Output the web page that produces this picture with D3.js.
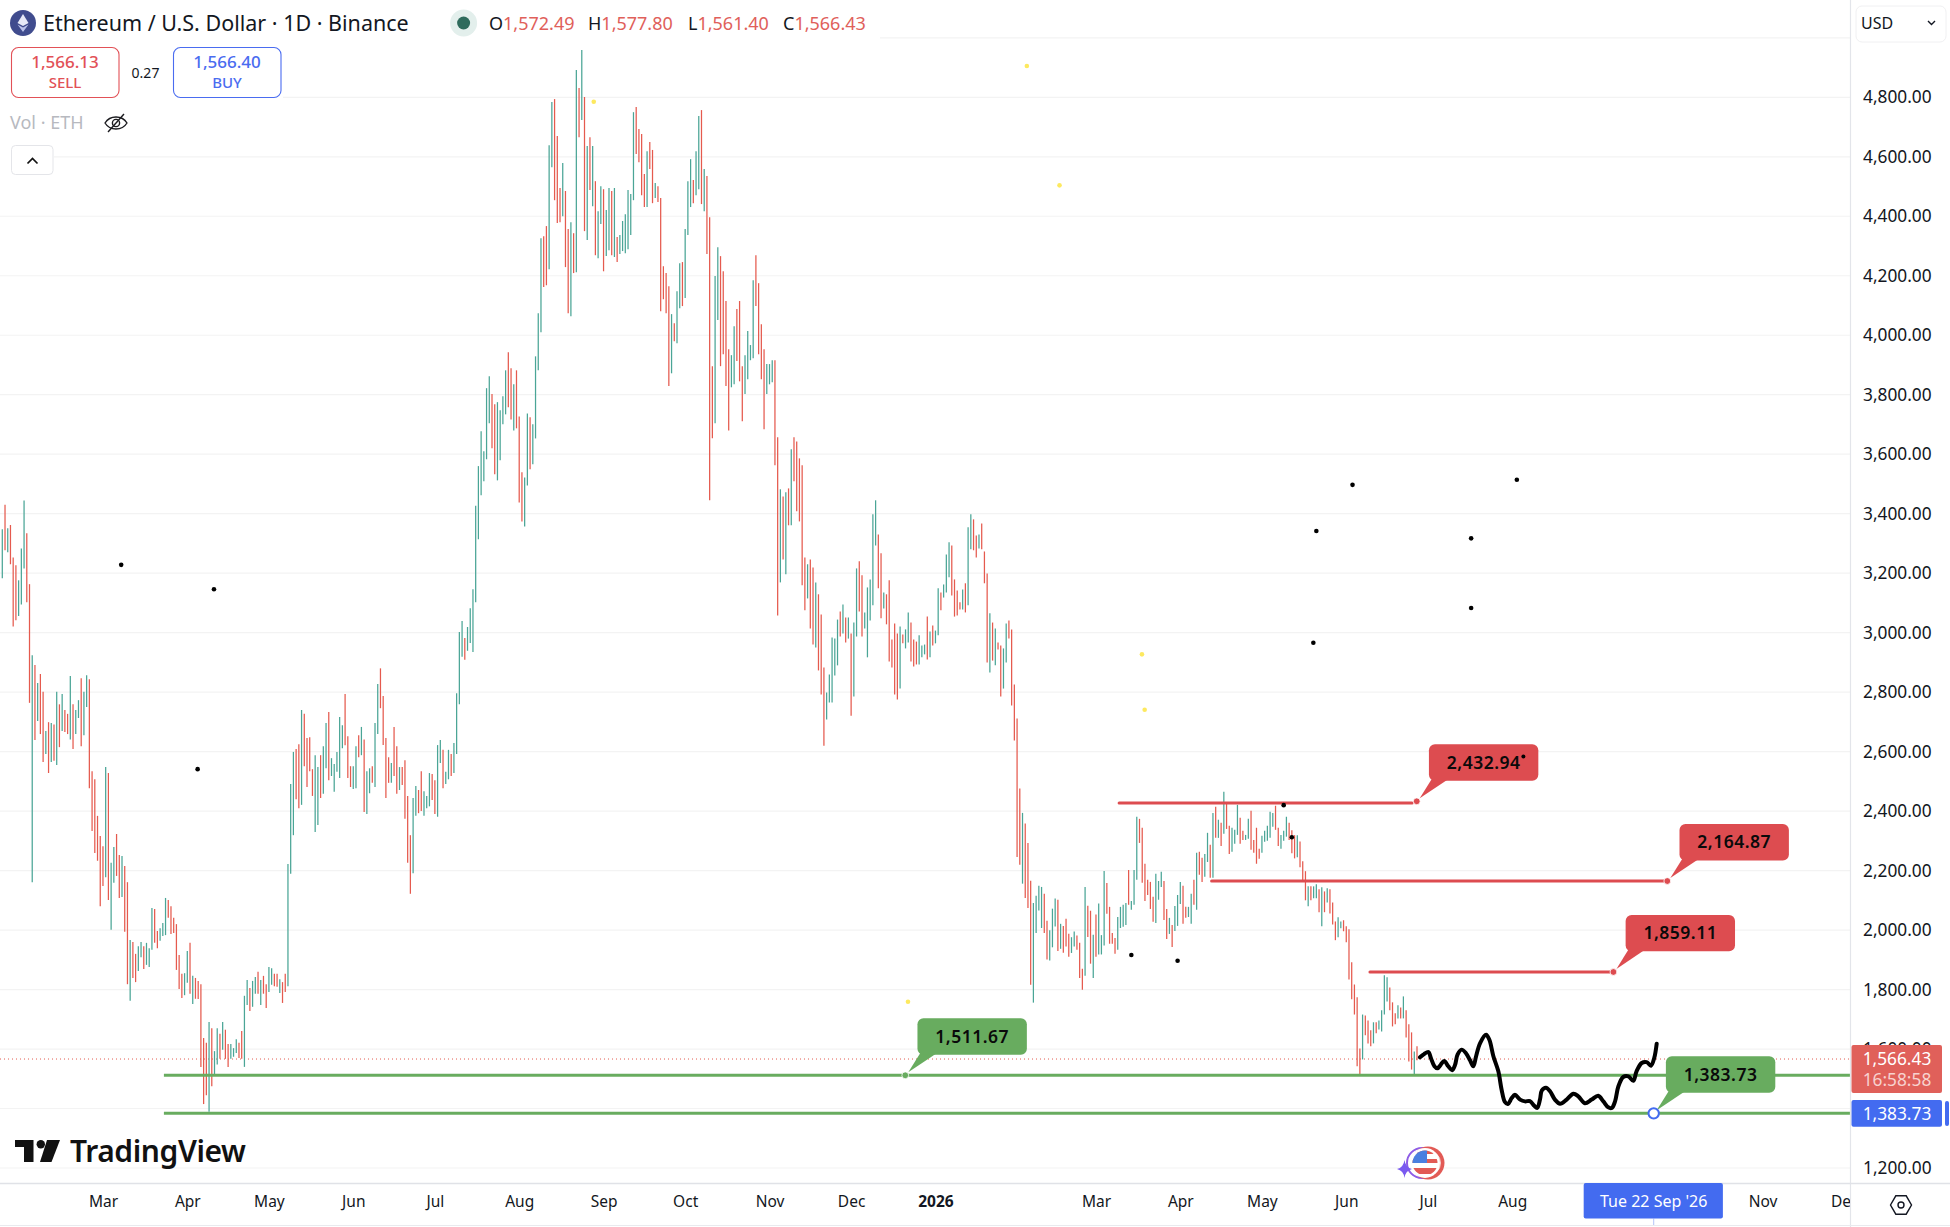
<!DOCTYPE html>
<html><head><meta charset="utf-8"><title>ETH/USD</title>
<script src="https://d3js.org/d3.v7.min.js"></script>
<style>html,body{margin:0;padding:0;background:#fff}svg{display:block}text{font-family:"Noto Sans",sans-serif}</style>
</head><body><div id="chart"></div>
<script>
const firstBarDate = "2025-01-23";
const highs = [
3348,3430,3351,3362,3253,3227,3176,3283,3444,3334,3163,2924,2891,2831,2861,2801,2669,2699,2696,2691,
2801,2759,2794,2740,2727,2854,2759,2740,2773,2847,2801,2857,2843,2534,2507,2384,2316,2282,2548,2528,
2226,2279,2323,2252,2249,2215,2161,1967,1960,1920,1946,1960,1946,1957,1939,2074,2071,1997,2006,2024,
2108,2101,2080,2041,2020,1916,1853,1855,1930,1957,1846,1839,1829,1818,1637,1621,1691,1670,1593,1670,
1651,1691,1665,1617,1617,1603,1633,1621,1661,1779,1832,1805,1829,1842,1860,1832,1846,1818,1876,1872,
1853,1853,1835,1825,1853,2222,2491,2599,2609,2625,2740,2727,2646,2648,2541,2588,2548,2588,2618,2696,
2733,2578,2558,2599,2716,2689,2794,2652,2551,2551,2618,2655,2683,2641,2534,2544,2551,2696,2827,2880,
2787,2646,2581,2562,2683,2618,2548,2548,2571,2451,2319,2444,2484,2471,2534,2467,2451,2528,2525,2504,
2622,2639,2606,2532,2606,2592,2629,2796,3002,3039,2982,3019,3082,3146,3427,3560,
3677,3610,3822,3862,3802,3768,3775,3748,3795,3882,3943,3889,3835,3882,3727,3539,3522,3737,3724,3701,
3929,4074,4326,4333,4367,4639,4784,4794,4670,4495,4579,4485,4357,4380,4343,4892,4831,4959,4801,4636,
4666,4636,4518,4417,4501,4491,4421,4495,4485,4495,4330,4337,4384,4407,4488,4475,4750,4767,4693,4677,
4542,4619,4650,4623,4512,4501,4461,4232,4209,4165,4071,4040,4148,4242,4246,4357,4518,4592,4522,4619,
4737,4757,4559,4535,4397,3896,4199,4296,4266,4215,4115,3953,3933,4030,4088,4115,3896,3933,4014,3967,
4185,4269,4175,4037,3953,3903,3903,3916,3916,3657,
3482,3458,3472,3485,3617,3657,3643,3586,3563,3253,3230,3246,3219,3169,3129,3061,2883,2799,2859,2984,
2980,3044,3071,3095,3051,3051,2997,3034,3216,3240,3193,3068,3152,3179,3398,3445,3330,3267,3135,3129,
3176,2977,3031,2997,3021,2994,3011,3068,3034,2977,2970,2991,2957,2960,3054,3004,3024,3007,3149,3135,
3162,3263,3304,3293,3179,3142,3102,3145,3166,3354,3398,3381,3327,3330,3367,3273,3199,3065,3034,3014,
2967,2957,2947,3031,3041,3011,2826,2711,
2476,2394,2358,2293,2166,2091,2115,2149,2145,2122,2031,1999,2072,2106,2102,2021,2014,2038,1988,1976,
1995,1982,1957,1870,2145,2082,2065,1984,2052,2089,1983,2199,2158,2078,1990,1973,2044,
2078,2085,2091,2202,2098,2202,2381,2374,2344,2223,2169,2162,2112,2189,2165,2196,2165,2071,2041,2017,
2081,2118,2162,2149,2078,2078,2122,2169,2260,2263,2243,2256,2327,2287,2394,2415,2371,2361,2465,2428,
2351,2344,2337,2421,2378,2334,2320,2374,2401,2303,2344,2273,2317,2334,2351,2398,2394,2418,2344,2320,
2334,2381,2361,
2336,2319,2319,2298,2231,2198,2147,2147,2147,2154,2137,2144,2130,2141,2137,2093,2029,2043,2029,2033,
2013,2003,1892,1817,1774,1602,1716,1713,1696,1663,1690,1690,1696,1730,1848,1841,1807,1757,1720,1747,
1740,1777,1730,1683,1656,1592,1609];
const lows = [
3183,3277,3270,3230,3021,3042,3056,3095,3216,3102,2764,2161,2639,2703,2659,2565,2592,2528,2565,2569,
2555,2615,2669,2666,2659,2641,2609,2659,2713,2618,2655,2750,2477,2333,2259,2233,2080,2148,2178,2101,
2001,2159,2182,2108,2111,1994,1818,1762,1839,1825,1862,1909,1869,1883,1876,1934,1957,1939,1964,1980,
1983,2041,1987,1990,1866,1802,1772,1781,1823,1786,1751,1769,1768,1540,1415,1445,1389,1475,1511,1548,
1567,1598,1567,1540,1567,1574,1587,1570,1567,1540,1748,1728,1742,1786,1786,1748,1786,1738,1792,1816,
1811,1809,1788,1755,1792,1811,2189,2319,2440,2410,2421,2551,2481,2534,2451,2330,2353,2444,2458,2544,
2504,2518,2465,2532,2511,2611,2621,2511,2481,2474,2477,2581,2588,2397,2390,2460,2495,2481,2659,2746,
2622,2444,2495,2495,2518,2458,2471,2488,2374,2226,2122,2191,2384,2393,2400,2384,2410,2416,2437,2390,
2381,2562,2477,2491,2507,2518,2528,2592,2759,2919,2909,2939,2965,2935,3102,3314,
3462,3509,3583,3704,3620,3533,3512,3580,3701,3734,3758,3717,3680,3687,3438,3374,3357,3495,3549,3566,
3653,3882,4010,4162,4168,4222,4565,4454,4377,4380,4400,4229,4074,4064,4209,4212,4666,4724,4350,4320,
4488,4434,4269,4259,4374,4215,4266,4286,4269,4263,4246,4273,4283,4276,4289,4337,4454,4609,4582,4471,
4431,4431,4559,4444,4461,4448,4081,4121,4074,3829,3872,3980,3973,4091,4098,4125,4337,4431,4444,4471,
4491,4441,4417,4273,3445,3654,3704,4051,3896,3936,3829,3680,3825,3835,3913,3845,3711,3802,3852,3916,
3923,4098,3936,3852,3684,3802,3835,3842,3563,3058,
3169,3246,3196,3361,3361,3509,3408,3374,3159,3075,3115,3014,2960,2950,2873,2792,2620,2708,2765,2765,
2856,2890,2987,2997,2967,2980,2721,2785,2987,3071,2987,3014,2917,3041,3092,3293,3149,3048,3081,3028,
2903,2883,2792,2775,2812,2964,2947,2967,2903,2886,2893,2893,2917,2927,2910,2917,2957,2964,2991,3075,
3118,3135,3186,3125,3054,3058,3078,3078,3068,3092,3280,3277,3253,3283,3280,3166,2900,2866,2906,2890,
2943,2785,2812,2900,2980,2755,2637,2246,
2220,2156,2108,2074,1816,1756,1990,2066,2007,1990,1901,1898,1942,2012,1930,1937,1924,1945,1910,1923,
1945,1934,1839,1799,1846,1977,1887,1839,1910,1918,1918,1948,2055,1954,1954,1920,1934,
2007,2011,2017,2085,2068,2085,2169,2293,2159,2098,2118,2071,2028,2024,2102,2145,2034,1970,1987,1943,
1997,2014,2088,2021,2041,2044,2021,2085,2068,2186,2162,2179,2229,2176,2176,2310,2310,2283,2324,2340,
2256,2263,2290,2320,2290,2303,2303,2307,2270,2260,2223,2240,2260,2297,2300,2310,2347,2337,2283,2273,
2300,2314,2303,
2258,2241,2245,2211,2164,2100,2080,2100,2107,2107,2060,2013,2060,2093,2056,2019,1966,1976,2006,1996,
1959,1834,1767,1716,1542,1510,1565,1646,1619,1609,1619,1653,1666,1659,1716,1760,1730,1676,1683,1703,
1703,1703,1639,1558,1531,1510,1562];
const sides = [
"GRGRRRGGGR","RGRGRRGRGR","GRGRRGRGGR","GGRRRRRRGR","GGRRGRRGRR","GGRGGGRRGG","GRRRRRRGGR","GRRRRRGRGG","RGRRGGGRRG",
"GRGGRGRRGG","RRGRRGGGRR","GRRRRGGRGG","RGGGGGRRRG","GRGRGGRGGR","RRRGRRGRRR","RGGRRGGGRR","GGRGGRGGGG","RGGGGG",
"GGGGRRGGGG","RRGRRRGGRG","GGGRRGGRRR","GRRGRGRGRG","RGRGGRGGRG","RGGGGGGRRR","RGRRGRRRRR","GRGGRGGGRG","GRGRRRGGRR","RRGGRRRGGG","GRRRRGGGRR",
"GRGRGRRRRR","GRRGRRRGGG","GGRGRGRGGR","RGGGGGRRGR","RRRRGRGGRR","RGGGRGRGGR","GGGRRRRGRG","GRRGRRRGRG","RRGGRRRR",
"RGRRRGGGGR","RGGGRGRRRG","GRRRGRRGRG","GGRRRRG",
"GGGRGGGRRR","RRRGGGRRGR","GGGRRGGRGR","RGGRGRGRGR","RGGGRRGGRR","RRGGGGGRRG","GGR",
"RRGRRRGRGG","RGRGRRRGGR","RRRRRRGRRR","GRGGGGRRRG","RGRRRGR"].join("");

const priceTicks = d3.range(1200, 5001, 200);
const labelledTicks = d3.range(1200, 4801, 200);
const timeTicks = ["2025-03-01","2025-04-01","2025-05-01","2025-06-01","2025-07-01","2025-08-01","2025-09-01","2025-10-01","2025-11-01","2025-12-01","2026-01-01","2026-03-01","2026-04-01","2026-05-01","2026-06-01","2026-07-01","2026-08-01","2026-09-01","2026-10-01","2026-11-01","2026-12-01"];

const lastPrice = 1566.43, bidPrice = 1566.13, askPrice = 1566.40, cursorPrice = 1383.73;
const ohlc = [["O","1,572.49"],["H","1,577.80"],["L","1,561.40"],["C","1,566.43"]];

const redLevels = [2427, 2164.87, 1859.11];
const redStartDays = [410.5, 444.5, 502.7];
const redEndDays = [518.2, 611.2, 591.3];
const greenLevels = [1511.67, 1383.73];
const greenStartDay = 59.4, greenEndDay = 690;

const calloutValues = [2432.94, 2164.87, 1859.11, 1511.67, 1383.73];
const calloutDays = [519.9, 612, 592.2, 331.9, 607];
const calloutKinds = ["red","red","red","green","cursor"];

const blackDotDays = [43.7,77.8,71.8,483,481.9,496.3,539.9,556.7,539.9,415,432,471,474,559.1];
const blackDotPrices = [3228,3146,2541,3342,2966,3497,3317,3514,3083,1916,1897,2420,2312,2584];
const yellowDotDays = [376.6,388.6,217.4,418.9,419.9,332.9];
const yellowDotPrices = [4905,4504,4785,2927,2741,1759];

const sketchDays = [521.1,522.6,524.2,525.1,526.4,527.5,528.7,530,531.5,532.9,534,534.9,536.4,538,539.5,540.7,541.7,543.2,545.4,546.6,548.1,549.9,551.1,552.3,553.4,554.8,556,557.9,559.7,561.5,563.1,564.2,565.2,565.9,567.4,568.9,570.7,572.6,575,577.5,579.3,581.7,584.2,586.6,588.5,590.3,591.6,592.8,594,595.8,597.7,599.5,600.7,602.6,604.4,606,607.2,608.1];
const sketchPrices = [1572,1583,1590,1570,1542,1535,1547,1560,1542,1529,1547,1581,1598,1586,1562,1542,1575,1620,1648,1631,1575,1525,1463,1422,1415,1435,1446,1430,1424,1425,1409,1402,1430,1461,1470,1458,1430,1416,1430,1450,1441,1418,1430,1443,1424,1404,1402,1424,1474,1506,1508,1493,1525,1553,1556,1544,1570,1618];

const W = 1950, H = 1227, axisX = 1850, axisY = 1183;
const RED = "#dd4c50", GREEN = "#68ac5f", BLUE = "#436bf0", UPC = "#4aa596", DOWNC = "#e55a4e", INK = "#131722", GRID = "#f3f3f3";

const d0 = new Date(firstBarDate + "T00:00:00Z");
const dayDate = d => new Date(+d0 + d * 864e5);
const x = d3.scaleUtc().domain([d0, dayDate(520)]).range([2.3, 1417]);
const xd = d => x(dayDate(d));
const y = d3.scaleLinear().domain([4800, 1200]).range([97.3, 1168]);
const money = d3.format(",.2f");

const svg = d3.select("#chart").append("svg").attr("width", W).attr("height", H).attr("viewBox", `0 0 ${W} ${H}`);
svg.append("rect").attr("width", W).attr("height", H).attr("fill", "#fff");
const defs = svg.append("defs");
defs.append("clipPath").attr("id", "plot").append("rect").attr("width", axisX).attr("height", axisY);
defs.append("clipPath").attr("id", "timeaxis").append("rect").attr("y", axisY).attr("width", axisX).attr("height", H - axisY);

const plot = svg.append("g").attr("clip-path", "url(#plot)");
plot.append("g").selectAll("line").data(priceTicks).join("line")
  .attr("x1", 0).attr("x2", axisX).attr("y1", d => y(d)).attr("y2", d => y(d))
  .attr("stroke", GRID).attr("stroke-width", 1.2);

// legend background hides the grid
plot.append("rect").attr("x", 0).attr("y", 0).attr("width", 880).attr("height", 42).attr("fill", "#fff");
plot.append("rect").attr("x", 0).attr("y", 42).attr("width", 283).attr("height", 60).attr("fill", "#fff");
plot.append("rect").attr("x", 0).attr("y", 102).attr("width", 54).attr("height", 76).attr("fill", "#fff");

plot.append("line").attr("x1", 0).attr("x2", axisX).attr("y1", y(lastPrice)).attr("y2", y(lastPrice))
  .attr("stroke", DOWNC).attr("stroke-width", 1).attr("stroke-dasharray", "1 3");

plot.append("g").selectAll("line").data(highs).join("line")
  .attr("x1", (d, i) => xd(i)).attr("x2", (d, i) => xd(i))
  .attr("y1", d => y(d)).attr("y2", (d, i) => y(lows[i]))
  .attr("stroke", (d, i) => sides[i] === "G" ? UPC : DOWNC).attr("stroke-width", 1.25);

// horizontal levels
const levels = plot.append("g");
redLevels.forEach((lv, i) => levels.append("line")
  .attr("x1", xd(redStartDays[i])).attr("x2", xd(redEndDays[i])).attr("y1", y(lv)).attr("y2", y(lv))
  .attr("stroke", RED).attr("stroke-width", 3).attr("stroke-linecap", "round"));
greenLevels.forEach(lv => levels.append("line")
  .attr("x1", xd(greenStartDay)).attr("x2", xd(greenEndDay)).attr("y1", y(lv)).attr("y2", y(lv))
  .attr("stroke", GREEN).attr("stroke-width", 3));

plot.append("g").selectAll("circle").data(blackDotDays).join("circle")
  .attr("cx", d => xd(d)).attr("cy", (d, i) => y(blackDotPrices[i])).attr("r", 2.3).attr("fill", "#000");
plot.append("g").selectAll("circle").data(yellowDotDays).join("circle")
  .attr("cx", d => xd(d)).attr("cy", (d, i) => y(yellowDotPrices[i])).attr("r", 2.3).attr("fill", "#fde95f");

// hand-drawn sketch
plot.append("path").datum(sketchDays)
  .attr("d", d3.line().x(d => xd(d)).y((d, i) => y(sketchPrices[i])).curve(d3.curveCatmullRom))
  .attr("fill", "none").attr("stroke", "#000").attr("stroke-width", 4).attr("stroke-linecap", "round").attr("stroke-linejoin", "round");

// callouts
const boxW = 109.4, boxH = 36.4, boxDX = 12.2, boxDY = -57;
calloutValues.forEach((v, i) => {
  const kind = calloutKinds[i], col = kind === "red" ? RED : GREEN;
  const ax = xd(calloutDays[i]), ay = y(v);
  const g = svg.append("g");
  const bx = ax + boxDX, by = ay + boxDY, bb = by + boxH;
  g.append("path").attr("d", d3.line()([[ax + 3, ay - 3], [bx + 3, bb - 2], [bx + 20, bb - 2]])).attr("fill", col);
  g.append("rect").attr("x", bx).attr("y", by).attr("width", boxW).attr("height", boxH).attr("rx", 6).attr("fill", col);
  g.append("text").attr("x", bx + boxW / 2).attr("y", by + boxH / 2 + 6).attr("text-anchor", "middle")
    .attr("font-size", 17.5).attr("font-weight", 600).attr("letter-spacing", 0.5).attr("fill", "#0a0a0a").text(money(v));
  if (kind === "cursor") {
    g.append("circle").attr("cx", ax).attr("cy", ay).attr("r", 5.2).attr("fill", "#fff").attr("stroke", BLUE).attr("stroke-width", 2);
  } else {
    g.append("circle").attr("cx", ax).attr("cy", ay).attr("r", 3.4).attr("fill", col).attr("stroke", "#fff").attr("stroke-width", 0.8);
  }
});
// the small dot sitting on the first callout, drawn above it
svg.append("circle").attr("cx", xd(blackDotDays[13])).attr("cy", y(blackDotPrices[13])).attr("r", 2).attr("fill", "#000");

// price axis
svg.append("rect").attr("x", axisX).attr("y", 0).attr("width", W - axisX).attr("height", H).attr("fill", "#fff");
const yAxis = d3.axisRight(y).tickValues(labelledTicks).tickFormat(money).tickSize(0).tickPadding(13);
const yG = svg.append("g").attr("transform", `translate(${axisX},0)`).call(yAxis);
yG.select(".domain").remove();
yG.selectAll("text").attr("font-size", 17.3).attr("fill", INK).attr("font-family", '"Noto Sans",sans-serif');
svg.append("line").attr("x1", axisX + 0.5).attr("x2", axisX + 0.5).attr("y1", 0).attr("y2", H).attr("stroke", "#e3e5ea").attr("stroke-width", 1.2);

// time axis
svg.append("line").attr("x1", 0).attr("x2", W).attr("y1", axisY + 0.5).attr("y2", axisY + 0.5).attr("stroke", "#e0e2e7").attr("stroke-width", 1.4);
svg.append("line").attr("x1", 0).attr("x2", W).attr("y1", 1225.5).attr("y2", 1225.5).attr("stroke", "#e9eaee").attr("stroke-width", 1.2);
const xAxis = d3.axisBottom(x).tickValues(timeTicks.map(s => new Date(s + "T00:00:00Z")))
  .tickFormat(d => d.getUTCMonth() === 0 ? d3.utcFormat("%Y")(d) : d3.utcFormat("%b")(d)).tickSize(0).tickPadding(13);
const xG = svg.append("g").attr("clip-path", "url(#timeaxis)").append("g").attr("transform", `translate(0,${axisY})`).call(xAxis);
xG.select(".domain").remove();
xG.selectAll("text").attr("font-size", 15.5).attr("fill", INK).attr("font-family", '"Noto Sans",sans-serif')
  .attr("font-weight", d => d.getUTCMonth() === 0 ? 700 : 400);

// crosshair date label
svg.append("rect").attr("x", x(dayDate(607)) - 70).attr("y", axisY).attr("width", 139.2).attr("height", 35.6).attr("rx", 2).attr("fill", BLUE);
svg.append("text").attr("x", x(dayDate(607))).attr("y", 1207).attr("text-anchor", "middle").attr("font-size", 16).attr("fill", "#fff")
  .text(d3.utcFormat("%a %d %b '%y")(dayDate(607)));
svg.append("line").attr("x1", x(dayDate(607))).attr("x2", x(dayDate(607))).attr("y1", 1218.7).attr("y2", 1225).attr("stroke", BLUE).attr("stroke-width", 0.8).attr("opacity", .5);

// price labels
const priceBox = svg.append("g");
priceBox.append("rect").attr("x", axisX + 1.5).attr("y", 1045).attr("width", 90.5).attr("height", 48).attr("rx", 2).attr("fill", "#e0605a");
priceBox.append("text").attr("x", 1897).attr("y", 1064.5).attr("text-anchor", "middle").attr("font-size", 17.3).attr("fill", "#fff").text(money(lastPrice));
priceBox.append("text").attr("x", 1897).attr("y", 1085.5).attr("text-anchor", "middle").attr("font-size", 17.3).attr("fill", "#f7d2cf").text("16:58:58");
priceBox.append("rect").attr("x", axisX + 1.5).attr("y", 1100).attr("width", 90.5).attr("height", 26.7).attr("rx", 2).attr("fill", BLUE);
priceBox.append("text").attr("x", 1897).attr("y", 1119.5).attr("text-anchor", "middle").attr("font-size", 17.3).attr("fill", "#fff").text(money(cursorPrice));
priceBox.append("rect").attr("x", 1945).attr("y", 1101).attr("width", 4).attr("height", 25).attr("rx", 2).attr("fill", BLUE);

// gear
const gear = svg.append("g").attr("transform", "translate(1901,1205)");
gear.append("path").attr("d", "M-10.5 0L-5.2 -9.2H5.2L10.5 0L5.2 9.2H-5.2Z").attr("fill", "none").attr("stroke", INK).attr("stroke-width", 1.4);
gear.append("circle").attr("r", 3).attr("fill", "none").attr("stroke", INK).attr("stroke-width", 1.4);

// USD selector
svg.append("rect").attr("x", 1856).attr("y", 6).attr("width", 90).attr("height", 36).attr("rx", 6).attr("fill", "#fff").attr("stroke", "#f0f0f2");
svg.append("text").attr("x", 1861).attr("y", 29).attr("font-size", 16).attr("fill", INK).text("USD");
svg.append("path").attr("d", "M1928 21l3.5 3.5l3.5 -3.5").attr("fill", "none").attr("stroke", INK).attr("stroke-width", 1.4);

// legend
const ic = svg.append("g").attr("transform", "translate(23,23)");
ic.append("circle").attr("r", 13).attr("fill", "#404c8e");
ic.append("path").attr("d", "M0 -9L5.5 0L0 3L-5.5 0Z").attr("fill", "#e6e9f7");
ic.append("path").attr("d", "M0 4.6L5.5 1.4L0 9L-5.5 1.4Z").attr("fill", "#b9c1ea");
svg.append("text").attr("x", 43).attr("y", 31).attr("font-size", 21.5).attr("fill", INK).text("Ethereum / U.S. Dollar · 1D · Binance");
svg.append("circle").attr("cx", 463.6).attr("cy", 23).attr("r", 13.5).attr("fill", "#e3efec");
svg.append("circle").attr("cx", 463.6).attr("cy", 23).attr("r", 6.5).attr("fill", "#2e6b5c");
const ohlcX = [489, 588, 688, 783];
ohlc.forEach((o, i) => {
  const t = svg.append("text").attr("x", ohlcX[i]).attr("y", 30).attr("font-size", 18);
  t.append("tspan").attr("fill", INK).text(o[0]);
  t.append("tspan").attr("fill", "#e0605a").text(o[1]);
});

// sell / buy
const trade = [[11, "#e25157", bidPrice, "SELL"], [173, "#4a6cf0", askPrice, "BUY"]];
trade.forEach(t => {
  svg.append("rect").attr("x", t[0] + .5).attr("y", 47.5).attr("width", 107.5).attr("height", 50).attr("rx", 7).attr("fill", "#fff").attr("stroke", t[1]).attr("stroke-width", 1.1);
  svg.append("text").attr("x", t[0] + 54).attr("y", 68).attr("text-anchor", "middle").attr("font-size", 17).attr("font-weight", 500).attr("fill", t[1]).text(money(t[2]));
  svg.append("text").attr("x", t[0] + 54).attr("y", 88).attr("text-anchor", "middle").attr("font-size", 15).attr("font-weight", 500).attr("fill", t[1]).text(t[3]);
});
svg.append("text").attr("x", 145.5).attr("y", 78).attr("text-anchor", "middle").attr("font-size", 14).attr("fill", INK).text(d3.format(".2f")(askPrice - bidPrice));
svg.append("text").attr("x", 10).attr("y", 129).attr("font-size", 18).attr("fill", "#b7b9bf").text("Vol · ETH");
const eye = svg.append("g").attr("transform", "translate(116,123)").attr("fill", "none").attr("stroke", "#1b1b1f").attr("stroke-width", 1.4);
eye.append("path").attr("d", "M-11 0C-6 -8 6 -8 11 0C6 8 -6 8 -11 0Z");
eye.append("circle").attr("r", 3.6);
eye.append("path").attr("d", "M-8 9L8 -9");
svg.append("rect").attr("x", 11.5).attr("y", 145.5).attr("width", 41.5).attr("height", 29).attr("rx", 4).attr("fill", "#fff").attr("stroke", "#e4e5e9");
svg.append("path").attr("d", "M27.5 163.5l5 -5l5 5").attr("fill", "none").attr("stroke", "#111").attr("stroke-width", 1.7);

// watermark
const wm = svg.append("g").attr("fill", "#111");
wm.append("path").attr("d", "M15 1140H33.5V1162H24V1147H15Z");
wm.append("circle").attr("cx", 40.8).attr("cy", 1144.3).attr("r", 4.2);
wm.append("path").attr("d", "M47 1140H60L51.5 1162H40Z");
svg.append("text").attr("x", 70).attr("y", 1161.7).attr("font-family", '"Inter",sans-serif').attr("font-size", 30).attr("font-weight", 600).attr("fill", "#111").attr("letter-spacing", -0.4).text("TradingView");

// event icon
const ev = svg.append("g").attr("transform", "translate(1425,1163)");
defs.append("clipPath").attr("id", "flag").append("circle").attr("r", 12.5);
ev.append("circle").attr("cx", -3).attr("cy", 0).attr("r", 15).attr("fill", "none").attr("stroke", "#8e5ce6").attr("stroke-width", 2);
ev.append("circle").attr("cx", 3).attr("r", 16.5).attr("fill", "#e25a55");
ev.append("circle").attr("cx", 3).attr("r", 12.5).attr("fill", "none").attr("stroke", "#f5d5d3").attr("stroke-width", 1);
ev.append("circle").attr("r", 15).attr("fill", "#fff");
const fl = ev.append("g").attr("clip-path", "url(#flag)");
fl.append("rect").attr("x", -13).attr("y", -13).attr("width", 26).attr("height", 26).attr("fill", "#fff");
fl.append("rect").attr("x", -13).attr("y", -4).attr("width", 26).attr("height", 4).attr("fill", "#e25a55");
fl.append("rect").attr("x", -13).attr("y", 5).attr("width", 26).attr("height", 6).attr("fill", "#e25a55");
fl.append("rect").attr("x", -13).attr("y", -13).attr("width", 26).attr("height", 4).attr("fill", "#e25a55");
fl.append("rect").attr("x", -13).attr("y", -13).attr("width", 15).attr("height", 13).attr("fill", "#4a7fe0");
svg.append("path").attr("d", "M1404.5 1160Q1405.5 1167.5 1412 1169Q1405.5 1170.5 1404.5 1178Q1403.5 1170.5 1397 1169Q1403.5 1167.5 1404.5 1160Z").attr("fill", "#7a5af0");
</script></body></html>
